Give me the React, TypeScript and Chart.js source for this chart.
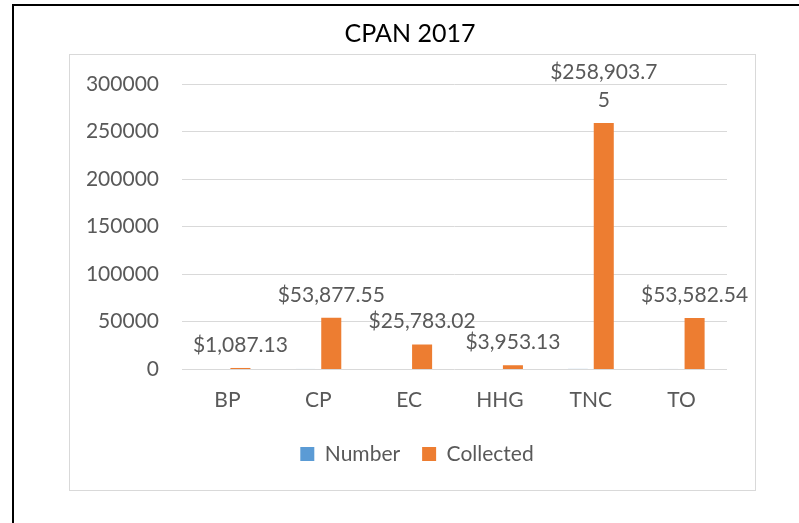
import React, { useEffect, useRef } from "react";
import { Chart, registerables } from "chart.js";

Chart.register(...registerables);

const chartTitle = "CPAN 2017";
const categories = ["BP", "CP", "EC", "HHG", "TNC", "TO"];
const seriesNames = ["Number", "Collected"];
const numberValues = [2, 40, 18, 3, 95, 36];
const collectedValues = [1087.13, 53877.55, 25783.02, 3953.13, 258903.75, 53582.54];
const yMin = 0;
const yMax = 300000;
const yStep = 50000;

const FONT = "Lato";
const TEXT_GRAY = "#595959";
const GRID_GRAY = "#d9d9d9";
const BLUE = "#5B9BD5";
const ORANGE = "#ED7D31";

const fmtMoney = (v: number) =>
  "$" + v.toLocaleString("en-US", { minimumFractionDigits: 2, maximumFractionDigits: 2 });

const wrapText = (ctx: CanvasRenderingContext2D, text: string, maxW: number) => {
  const lines: string[] = [];
  let cur = "";
  for (const ch of text) {
    if (cur && ctx.measureText(cur + ch).width > maxW) {
      lines.push(cur);
      cur = ch;
    } else {
      cur += ch;
    }
  }
  if (cur) lines.push(cur);
  return lines;
};

// zero baseline drawn separately so tiny bars are not shifted onto it
const zeroLinePlugin = {
  id: "zeroLine",
  beforeDatasetsDraw(chart: any) {
    const { ctx, chartArea, scales } = chart;
    const y = Math.round(scales.y.getPixelForValue(0) - 0.5) + 0.5;
    ctx.save();
    ctx.strokeStyle = GRID_GRAY;
    ctx.lineWidth = 1;
    ctx.beginPath();
    ctx.moveTo(chartArea.left, y);
    ctx.lineTo(chartArea.right, y);
    ctx.stroke();
    ctx.restore();
  },
};

const labelPlugin = {
  id: "barValueLabels",
  afterDatasetsDraw(chart: any) {
    const ctx: CanvasRenderingContext2D = chart.ctx;
    const meta = chart.getDatasetMeta(1);
    ctx.save();
    ctx.font = `21px ${FONT}`;
    ctx.fillStyle = TEXT_GRAY;
    ctx.textAlign = "center";
    ctx.textBaseline = "middle";
    const lh = 28;
    meta.data.forEach((el: any, i: number) => {
      const lines = wrapText(ctx, fmtMoney(collectedValues[i]), 112);
      lines.forEach((ln, j) => {
        const y = el.y - 23 - (lines.length - 1 - j) * lh;
        ctx.fillText(ln, el.x, y);
      });
    });
    ctx.restore();
  },
};

const shiftPlugin = {
  id: "shiftBlocks",
  afterLayout(chart: any) {
    if (chart.legend) {
      chart.legend.left += 19;
      chart.legend.right += 19;
    }
    if (chart.titleBlock) {
      chart.titleBlock.left += 12;
      chart.titleBlock.right += 12;
    }
  },
};

export default function App() {
  const ref = useRef<HTMLCanvasElement | null>(null);

  useEffect(() => {
    document.body.style.margin = "0";
    if (!ref.current) return;
    const chart = new Chart(ref.current, {
      type: "bar",
      data: {
        labels: categories,
        datasets: [
          {
            label: seriesNames[0],
            data: numberValues,
            backgroundColor: BLUE,
            categoryPercentage: 0.573,
            barPercentage: 0.77,
            inflateAmount: 0,
          },
          {
            label: seriesNames[1],
            data: collectedValues,
            backgroundColor: ORANGE,
            categoryPercentage: 0.573,
            barPercentage: 0.77,
            inflateAmount: 0,
          },
        ],
      },
      options: {
        animation: false,
        responsive: false,
        maintainAspectRatio: false,
        layout: { padding: { left: 69, right: 72, top: 18.5, bottom: 48.5 } },
        plugins: {
          title: {
            display: true,
            text: chartTitle,
            color: "#000000",
            font: { family: FONT, size: 25, weight: "normal" },
            padding: { top: 0, bottom: 35.5 },
          },
          legend: {
            position: "bottom",
            labels: {
              color: TEXT_GRAY,
              font: { family: FONT, size: 21 },
              boxWidth: 14,
              boxHeight: 14,
              padding: 22,
            },
          },
          tooltip: { enabled: false },
        },
        scales: {
          x: {
            grid: { display: false, drawTicks: false },
            border: { display: false },
            ticks: { color: TEXT_GRAY, font: { family: FONT, size: 21 }, padding: 19 },
            afterFit: (s: any) => {
              s.height = 52.5;
            },
          },
          y: {
            min: yMin,
            max: yMax,
            grid: {
              color: GRID_GRAY,
              drawTicks: false,
              lineWidth: (c: any) => (c.tick && c.tick.value === 0 ? 0 : 1),
            },
            border: { display: false },
            ticks: {
              stepSize: yStep,
              color: TEXT_GRAY,
              font: { family: FONT, size: 21 },
              padding: 23,
              callback: (v: any) => String(v),
            },
            afterFit: (s: any) => {
              s.width = 113;
            },
          },
        },
      },
      plugins: [zeroLinePlugin, labelPlugin, shiftPlugin],
    } as any);
    return () => chart.destroy();
  }, []);

  return (
    <div style={{ position: "relative", width: 799, height: 523, background: "#fff", overflow: "hidden" }}>
      <div
        style={{
          position: "absolute",
          left: 12,
          top: 4,
          width: 800,
          height: 530,
          borderLeft: "2px solid #000",
          borderTop: "2px solid #000",
        }}
      />
      <div
        style={{
          position: "absolute",
          left: 69,
          top: 54,
          width: 687,
          height: 437,
          border: "1px solid " + GRID_GRAY,
          boxSizing: "border-box",
        }}
      />
      <canvas ref={ref} width={799} height={523} style={{ position: "absolute", left: 0, top: 0 }} />
    </div>
  );
}
